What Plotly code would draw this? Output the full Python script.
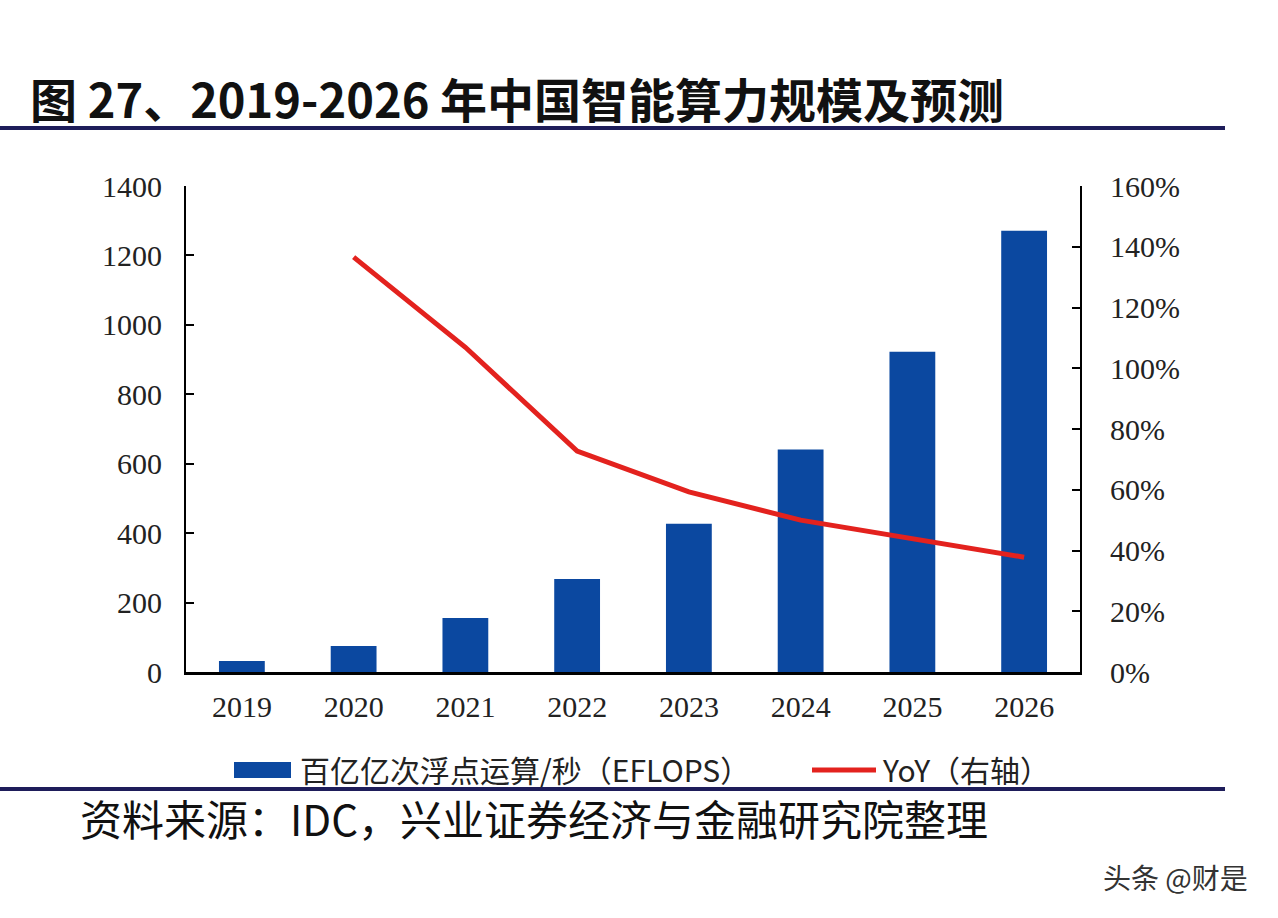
import plotly.graph_objects as go

years = ["2019", "2020", "2021", "2022", "2023", "2024", "2025", "2026"]
eflops = [31.7, 75.0, 155.2, 268.0, 427.0, 640.7, 922.8, 1271.4]
yoy_years = ["2020", "2021", "2022", "2023", "2024", "2025", "2026"]
yoy = [136.6, 106.9, 72.7, 59.3, 50.0, 44.0, 37.8]

left_ticks = [0, 200, 400, 600, 800, 1000, 1200, 1400]
right_ticks = [0, 20, 40, 60, 80, 100, 120, 140, 160]
right_tick_labels = ["0%", "20%", "40%", "60%", "80%", "100%", "120%", "140%", "160%"]

bar_name = "百亿亿次浮点运算/秒（EFLOPS）"
line_name = "YoY（右轴）"
title_text = "图 27、2019-2026 年中国智能算力规模及预测"
source_text = "资料来源：IDC，兴业证券经济与金融研究院整理"
watermark = "头条 @财是"

BAR_COLOR = "#0b48a0"
LINE_COLOR = "#e3221e"
NAVY = "#1e1d5a"
SERIF = "Liberation Serif, Times New Roman, serif"
CJK = "Noto Sans CJK SC, sans-serif"

W, H = 1278, 918
L, R, T, B = 186, 1080, 186, 672

def px(x):
    return (x - L) / (R - L)

def py(y):
    return (B - y) / (B - T)

fig = go.Figure()
fig.add_trace(go.Bar(x=years, y=eflops, name=bar_name, marker_color=BAR_COLOR,
                     marker_line_width=0, yaxis="y"))
fig.add_trace(go.Scatter(x=yoy_years, y=yoy, name=line_name, mode="lines",
                         line=dict(color=LINE_COLOR, width=5), yaxis="y2"))

fig.update_layout(
    width=W, height=H,
    margin=dict(l=L, r=W - R, t=T, b=H - B, pad=0),
    paper_bgcolor="white", plot_bgcolor="white",
    showlegend=False,
    bargap=0.59,
    xaxis=dict(type="category", showline=True, linecolor="black", linewidth=3,
               ticks="", showgrid=False, ticklabelstandoff=6,
               tickfont=dict(family=SERIF, size=30, color="#222")),
    yaxis=dict(range=[0, 1400], tickvals=left_ticks, showline=True, linecolor="black",
               linewidth=2, ticks="inside", ticklen=8, tickwidth=2, tickcolor="black",
               showgrid=False, zeroline=False, ticklabelstandoff=16,
               tickfont=dict(family=SERIF, size=30, color="#222")),
    yaxis2=dict(range=[0, 160], tickvals=right_ticks, ticktext=right_tick_labels,
                overlaying="y", side="right", showline=True, linecolor="black", linewidth=2,
                ticks="inside", ticklen=8, tickwidth=2, tickcolor="black",
                showgrid=False, zeroline=False, ticklabelstandoff=22,
                tickfont=dict(family=SERIF, size=30, color="#222")),
)

shapes = [
    dict(type="line", xref="paper", yref="paper", x0=px(0), x1=px(1225), y0=py(128), y1=py(128),
         line=dict(color=NAVY, width=4)),
    dict(type="line", xref="paper", yref="paper", x0=px(0), x1=px(1225), y0=py(789), y1=py(789),
         line=dict(color=NAVY, width=4)),
    dict(type="rect", xref="paper", yref="paper", x0=px(234), x1=px(291), y0=py(778), y1=py(762),
         fillcolor=BAR_COLOR, line=dict(width=0)),
    dict(type="line", xref="paper", yref="paper", x0=px(812), x1=px(876), y0=py(770), y1=py(770),
         line=dict(color=LINE_COLOR, width=5)),
]
fig.update_layout(shapes=shapes)

annotations = [
    dict(text=title_text, xref="paper", yref="paper", x=px(28), y=py(97), xanchor="left",
         yanchor="middle", showarrow=False,
         font=dict(family=CJK, size=47, color="#111", weight="bold")),
    dict(text=bar_name, xref="paper", yref="paper", x=px(298), y=py(769), xanchor="left",
         yanchor="middle", showarrow=False, font=dict(family=CJK, size=30, color="#222")),
    dict(text=line_name, xref="paper", yref="paper", x=px(880), y=py(769), xanchor="left",
         yanchor="middle", showarrow=False, font=dict(family=CJK, size=30, color="#222")),
    dict(text=source_text, xref="paper", yref="paper", x=px(78), y=py(817), xanchor="left",
         yanchor="middle", showarrow=False, font=dict(family=CJK, size=42, color="#111")),
    dict(text=watermark, xref="paper", yref="paper", x=px(1250), y=py(877), xanchor="right",
         yanchor="middle", showarrow=False, font=dict(family=CJK, size=28, color="#333")),
]
fig.update_layout(annotations=annotations)

fig.write_html("out.html")
